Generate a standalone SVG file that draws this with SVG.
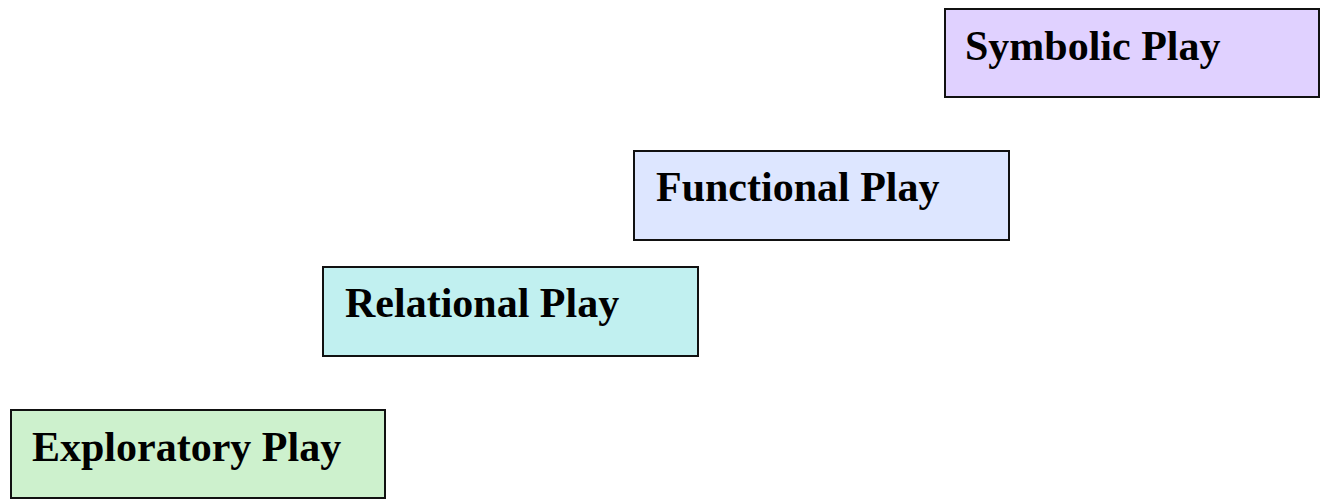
<svg xmlns="http://www.w3.org/2000/svg" width="1322" height="500" viewBox="0 0 1322 500">
<style>
.box{stroke:#111;stroke-width:2}
.lbl{font-family:"Liberation Serif","Times New Roman",serif;font-weight:bold;font-size:42px;fill:#000}
</style>
<rect width="1322" height="500" fill="#fff"/>
<g id="symbolic">
<rect class="box" x="945" y="9" width="374" height="88" fill="#E0D1FF"/>
<text class="lbl" x="965" y="60">Symbolic Play</text>
</g>
<g id="functional">
<rect class="box" x="634" y="151" width="375" height="89" fill="#DDE6FF"/>
<text class="lbl" x="656" y="201">Functional Play</text>
</g>
<g id="relational">
<rect class="box" x="323" y="267" width="375" height="89" fill="#C1F0F0"/>
<text class="lbl" x="345" y="317">Relational Play</text>
</g>
<g id="exploratory">
<rect class="box" x="11" y="410" width="374" height="88" fill="#CDF1CD"/>
<text class="lbl" x="32" y="461">Exploratory Play</text>
</g>
<g id="connectors"/>
</svg>
